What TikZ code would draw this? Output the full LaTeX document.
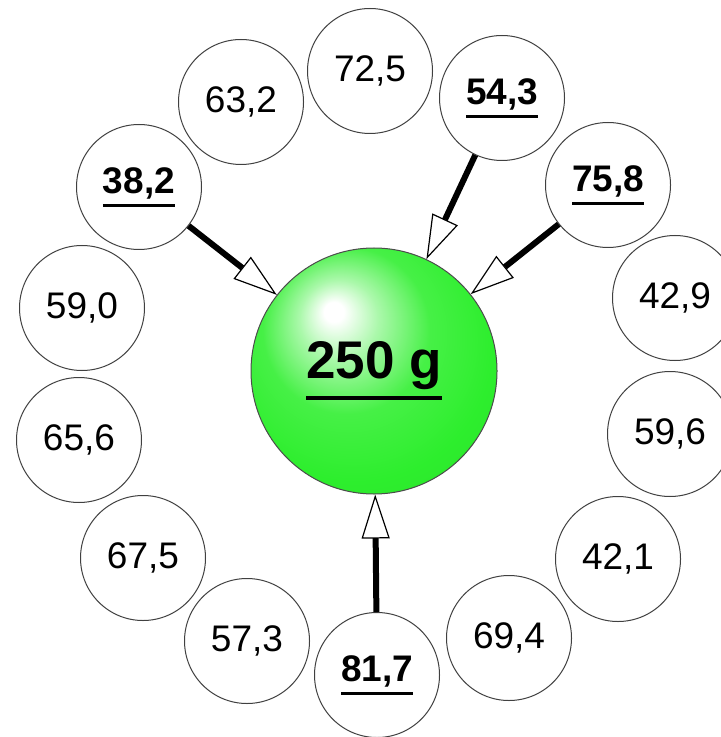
\documentclass[tikz,border=0pt]{standalone}
\usepackage{fontspec}
\setmainfont{Liberation Sans}
\usetikzlibrary{arrows.meta}
\definecolor{ballgreen}{RGB}{45,238,45}
\pgfdeclareradialshading{greenball}{\pgfpoint{-8.5bp}{12.5bp}}{%
  color(0bp)=(white); color(2bp)=(white);
  color(8bp)=(ballgreen!40!white); color(17bp)=(ballgreen!88!white);
  color(28bp)=(ballgreen); color(40bp)=(ballgreen!94!black);
  color(50bp)=(ballgreen!94!black)}
\newcommand{\ulnum}[3]{\vtop{\hbox{\bfseries #3}\kern#1\hrule height#2}}

\begin{document}
\begin{tikzpicture}[x=0.5pt, y=-0.5pt,
  num/.style={circle, draw=black!75, line width=0.5pt, fill=white,
    minimum size=62.5pt, inner sep=0pt, font=\fontsize{18.5}{20}\selectfont},
  ball/.style={circle, draw=black!70, line width=0.5pt, shading=greenball,
    minimum size=123pt, inner sep=0pt, font=\fontsize{26.5}{28}\selectfont},
  arrow/.style={line width=3pt,
    -{Triangle[length=22pt, width=14pt, fill=white, line width=0.6pt]}},
]
\useasboundingbox (0,0) rectangle (720,737);

% Outer ring
\node[num] (v725) at (370, 71) {72,5};
\node[num] (v632) at (241, 102) {63,2};
\node[num] (v543) at (502, 98) {\ulnum{2.4pt}{1.6pt}{54,3}};
\node[num] (v382) at (139, 187) {\ulnum{2.4pt}{1.6pt}{38,2}};
\node[num] (v758) at (608, 185) {\ulnum{2.4pt}{1.6pt}{75,8}};
\node[num] (v590) at (82, 308) {59,0};
\node[num] (v429) at (675, 298) {42,9};
\node[num] (v656) at (79, 440) {65,6};
\node[num] (v596) at (670, 434) {59,6};
\node[num] (v675) at (143, 558) {67,5};
\node[num] (v421) at (618, 559) {42,1};
\node[num] (v573) at (247, 641) {57,3};
\node[num] (v694) at (509, 638) {69,4};
\node[num] (v817) at (377, 675) {\ulnum{2.4pt}{1.6pt}{81,7}};

% Centre
\node[ball] (mass) at (374, 371) {\ulnum{3pt}{2pt}{250 g}};

% Arrows
\draw[arrow] (v382) -- (mass);
\draw[arrow] (v543) -- (mass);
\draw[arrow] (v758) -- (mass);
\draw[arrow] (v817) -- (mass);
\end{tikzpicture}
\end{document}
